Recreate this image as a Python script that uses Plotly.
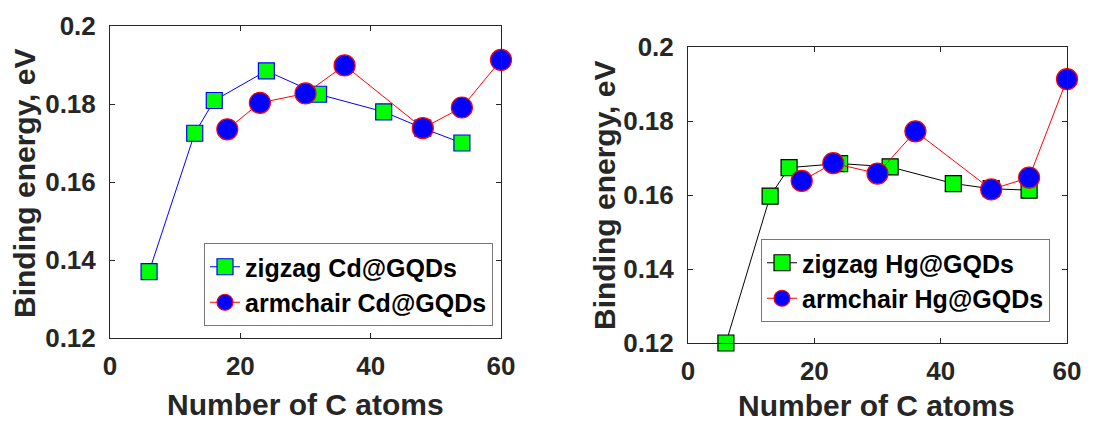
import plotly.graph_objects as go

# Number of carbon atoms in each quantum dot
zigzag_n = [6, 13, 16, 24, 32, 42, 48, 54]
armchair_n = [18, 23, 30, 36, 48, 54, 60]

# Binding energies (eV) for Cd adsorption
zigzag_cd = [0.137, 0.1725, 0.1809, 0.1885, 0.1825, 0.178, 0.1738, 0.170]
armchair_cd = [0.1735, 0.1803, 0.1827, 0.1899, 0.1738, 0.1791, 0.1913]

# Binding energies (eV) for Hg adsorption
zigzag_hg = [0.120, 0.1597, 0.1674, 0.1685, 0.1676, 0.1631, 0.1617, 0.1613]
armchair_hg = [0.1638, 0.1686, 0.1658, 0.1772, 0.1615, 0.1647, 0.1913]

x_ticks = [0, 20, 40, 60]
y_ticks = [0.12, 0.14, 0.16, 0.18, 0.2]
y_tick_text = ["0.12", "0.14", "0.16", "0.18", "0.2"]

FONT = "Liberation Sans, Arial, sans-serif"
AX = "#262626"
W, H = 1099, 424

fig = go.Figure()

def add_pair(xa, ya, legend, zz_y, ac_y, zz_line, zz_name, ac_name):
    fig.add_trace(go.Scatter(
        x=zigzag_n, y=zz_y, name=zz_name, mode="lines+markers",
        xaxis=xa, yaxis=ya, legend=legend, cliponaxis=False,
        line=dict(color=zz_line, width=1),
        marker=dict(symbol="square", size=16, color="#00ff00",
                    line=dict(color=zz_line, width=1.2)),
    ))
    fig.add_trace(go.Scatter(
        x=armchair_n, y=ac_y, name=ac_name, mode="lines+markers",
        xaxis=xa, yaxis=ya, legend=legend, cliponaxis=False,
        line=dict(color="#ff0000", width=1),
        marker=dict(symbol="circle", size=21, color="#0000ff",
                    line=dict(color="#ff0000", width=1.2)),
    ))

add_pair("x", "y", "legend", zigzag_cd, armchair_cd, "#0000ff",
         "zigzag Cd@GQDs", "armchair Cd@GQDs")
add_pair("x2", "y2", "legend2", zigzag_hg, armchair_hg, "#000000",
         "zigzag Hg@GQDs", "armchair Hg@GQDs")

tick_font = dict(family=FONT, size=26, color=AX, weight="bold")

def xaxis(domain, anchor):
    return dict(domain=domain, anchor=anchor, range=[0, 60], tickvals=x_ticks,
                ticks="inside", ticklen=5, tickcolor=AX, mirror="ticks",
                showline=True, linecolor=AX, linewidth=1, showgrid=False,
                zeroline=False, automargin=False, ticklabelstandoff=5,
                tickfont=tick_font)

def yaxis(domain, anchor):
    return dict(domain=domain, anchor=anchor, range=[0.12, 0.2],
                tickvals=y_ticks, ticktext=y_tick_text,
                ticks="inside", ticklen=5, tickcolor=AX, mirror="ticks",
                showline=True, linecolor=AX, linewidth=1, showgrid=False,
                zeroline=False, automargin=False, ticklabelstandoff=8,
                tickfont=tick_font)

legend_style = dict(bgcolor="white", bordercolor="#777777", borderwidth=1,
                    font=dict(family=FONT, size=25, color="black", weight="bold"),
                    xanchor="right", yanchor="bottom", tracegroupgap=0,
                    itemwidth=30)

fig.update_layout(
    width=W, height=H,
    margin=dict(l=0, r=0, t=0, b=0, pad=0, autoexpand=False),
    paper_bgcolor="white", plot_bgcolor="white", showlegend=True,
    xaxis=xaxis([110 / W, 501 / W], "y"),
    yaxis=yaxis([(H - 338) / H, (H - 26) / H], "x"),
    xaxis2=xaxis([688 / W, 1067 / W], "y2"),
    yaxis2=yaxis([(H - 343) / H, (H - 47) / H], "x2"),
    legend=dict(x=493 / W, y=(H - 326) / H, **legend_style),
    legend2=dict(x=1050 / W, y=(H - 322) / H, **legend_style),
)

title_font = dict(family=FONT, size=30, color=AX, weight="bold")
titles = [
    ("Number of C atoms", 305, 404, 0),
    ("Binding energy, eV", 24, 183, -90),
    ("Number of C atoms", 876, 405, 0),
    ("Binding energy, eV", 604, 195, -90),
]
for text, px, py, ang in titles:
    fig.add_annotation(text=text, x=px / W, y=(H - py) / H, xref="paper",
                       yref="paper", xanchor="center", yanchor="middle",
                       textangle=ang, showarrow=False, font=title_font)

fig.write_html("out.html")
